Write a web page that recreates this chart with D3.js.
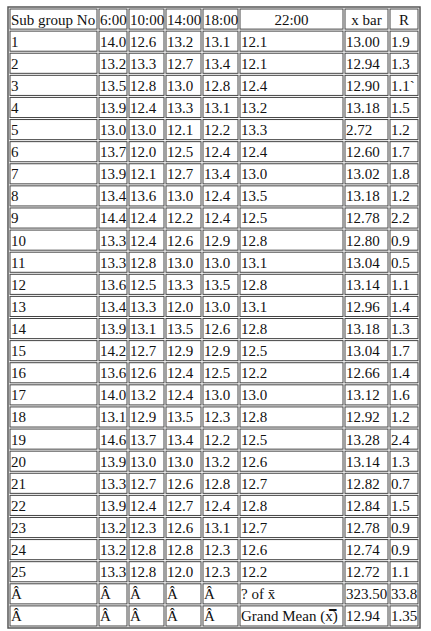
<!DOCTYPE html>
<html><head><meta charset="utf-8">
<script src="https://cdn.jsdelivr.net/npm/d3@7"></script>
<style>body{margin:0;background:#fff}</style>
</head><body>
<script>
// table contents
var headers = ["Sub group No", "6:00", "10:00", "14:00", "18:00", "22:00", "x bar", "R"];
var t6  = ["14.0","13.2","13.5","13.9","13.0","13.7","13.9","13.4","14.4","13.3","13.3","13.6","13.4","13.9","14.2","13.6","14.0","13.1","14.6","13.9","13.3","13.9","13.2","13.2","13.3"];
var t10 = ["12.6","13.3","12.8","12.4","13.0","12.0","12.1","13.6","12.4","12.4","12.8","12.5","13.3","13.1","12.7","12.6","13.2","12.9","13.7","13.0","12.7","12.4","12.3","12.8","12.8"];
var t14 = ["13.2","12.7","13.0","13.3","12.1","12.5","12.7","13.0","12.2","12.6","13.0","13.3","12.0","13.5","12.9","12.4","12.4","13.5","13.4","13.0","12.6","12.7","12.6","12.8","12.0"];
var t18 = ["13.1","13.4","12.8","13.1","12.2","12.4","13.4","12.4","12.4","12.9","13.0","13.5","13.0","12.6","12.9","12.5","13.0","12.3","12.2","13.2","12.8","12.4","13.1","12.3","12.3"];
var t22 = ["12.1","12.1","12.4","13.2","13.3","12.4","13.0","13.5","12.5","12.8","13.1","12.8","13.1","12.8","12.5","12.2","13.0","12.8","12.5","12.6","12.7","12.8","12.7","12.6","12.2"];
var xbar = ["13.00","12.94","12.90","13.18","2.72","12.60","13.02","13.18","12.78","12.80","13.04","13.14","12.96","13.18","13.04","12.66","13.12","12.92","13.28","13.14","12.82","12.84","12.78","12.74","12.72"];
var rng  = ["1.9","1.3","1.1`","1.5","1.2","1.7","1.8","1.2","2.2","0.9","0.5","1.1","1.4","1.3","1.7","1.4","1.6","1.2","2.4","1.3","0.7","1.5","0.9","0.9","1.1"];
var footer = [
  ["Â","Â","Â","Â","Â","? of x̄","323.50","33.8"],
  ["Â","Â","Â","Â","Â","Grand Mean (x̿)","12.94","1.35"]
];

var rows = [headers];
t6.forEach(function (v, i) {
  rows.push([String(i + 1), v, t10[i], t14[i], t18[i], t22[i], xbar[i], rng[i]]);
});
footer.forEach(function (f) { rows.push(f); });

var colEdges = [9, 98, 128, 165, 202, 239, 344, 389, 419];
var tableTop = 8, tableBottom = 627;
var x = d3.scaleOrdinal().domain(d3.range(9)).range(colEdges);
var y = d3.scaleLinear().domain([0, rows.length]).range([tableTop, tableBottom]);

var svg = d3.select("body").append("svg").attr("width", 431).attr("height", 631);

var g = svg.selectAll("g.row").data(rows).enter().append("g").attr("class", "row");
g.each(function (row, r) {
  var sel = d3.select(this);
  row.forEach(function (txt, c) {
    var x0 = x(c), x1 = x(c + 1), y0 = y(r), y1 = y(r + 1);
    sel.append("rect")
      .attr("x", x0 + 1).attr("y", y0 + 1)
      .attr("width", x1 - x0 - 2).attr("height", y1 - y0 - 2)
      .attr("fill", "#fff").attr("stroke", "#444").attr("stroke-width", 1);
    var center = r === 0 && c >= 5;
    sel.append("text")
      .attr("x", center ? (x0 + x1) / 2 : x0 + 2)
      .attr("y", y0 + 16.5)
      .attr("text-anchor", center ? "middle" : "start")
      .attr("font-family", "Liberation Serif, serif")
      .attr("font-size", 15)
      .attr("fill", "#111")
      .text(txt);
  });
});

svg.append("rect")
  .attr("x", colEdges[0] - 1).attr("y", tableTop - 1)
  .attr("width", colEdges[8] - colEdges[0] + 2).attr("height", tableBottom - tableTop + 2)
  .attr("fill", "none").attr("stroke", "#555").attr("stroke-width", 1.5);
</script>
</body></html>
